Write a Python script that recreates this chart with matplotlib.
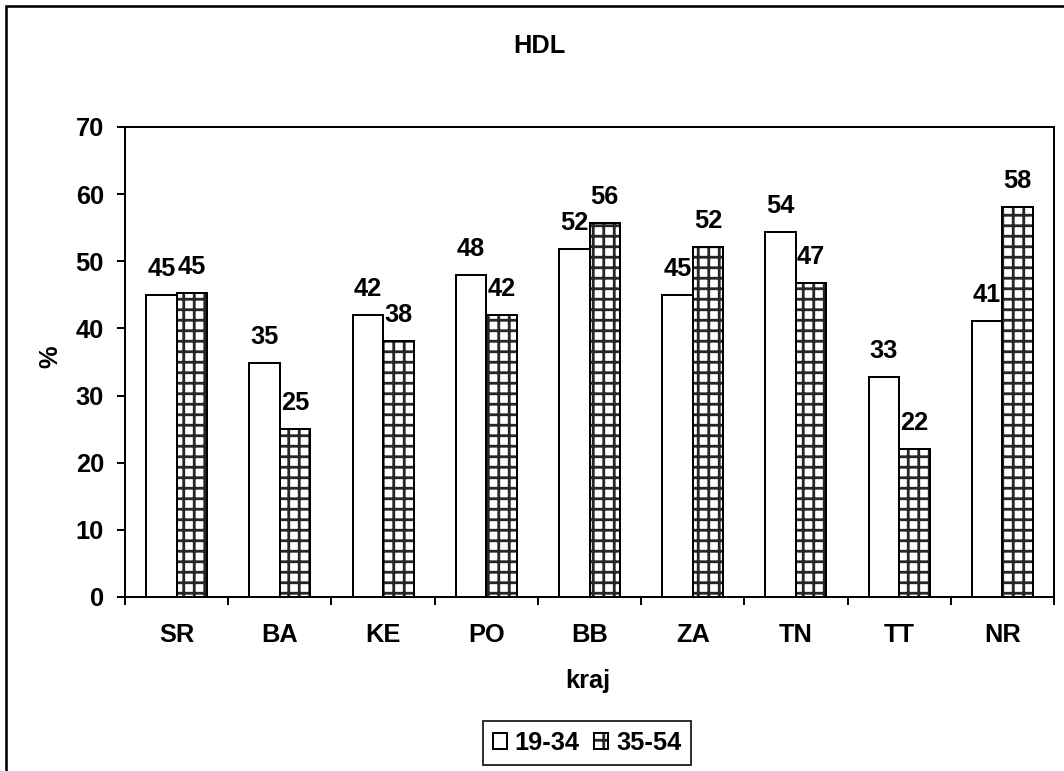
import matplotlib
matplotlib.use("Agg")
import matplotlib.pyplot as plt
from matplotlib.patches import Rectangle, Patch
from matplotlib.legend_handler import HandlerTuple
import numpy as np

# Data
regions = ["SR", "BA", "KE", "PO", "BB", "ZA", "TN", "TT", "NR"]
age_19_34 = [45.0, 34.8, 42.0, 48.0, 51.9, 45.0, 54.4, 32.8, 41.1]
age_35_54 = [45.3, 25.0, 38.1, 42.0, 55.7, 52.1, 46.7, 22.0, 58.1]
series_names = ["19-34", "35-54"]
yticks = [0, 10, 20, 30, 40, 50, 60, 70]

DPI = 126
W, H = 1064, 771
px = 72.0 / DPI  # points per pixel

plt.rcParams["font.family"] = ["Liberation Sans", "DejaVu Sans"]
plt.rcParams["font.weight"] = "bold"
plt.rcParams["hatch.linewidth"] = 1.6

fs = 14.5
hatch_col = "#262626"

fig = plt.figure(figsize=(W / DPI, H / DPI), dpi=DPI)
fig.patch.set_facecolor("white")

# chart-area frame
fig.add_artist(Rectangle((6 / W, -0.2), 1.2, 1.2 - 6 / H,
                         transform=fig.transFigure, fill=False,
                         edgecolor="black", linewidth=2.6 * px))

ax = fig.add_axes([125 / W, 1 - 597 / H, (1054 - 125) / W, (597 - 127) / H])

x = np.arange(len(regions))
bw = 0.295

b1 = ax.bar(x - bw / 2, age_19_34, bw, facecolor="white", edgecolor="black",
            linewidth=2 * px, zorder=3)
b2h = ax.bar(x + bw / 2, age_35_54, bw, facecolor="white", edgecolor=hatch_col,
             hatch="++", linewidth=0, zorder=3)
b2 = ax.bar(x + bw / 2, age_35_54, bw, fill=False, edgecolor="black",
            linewidth=2 * px, zorder=4)

for bars in (b1, b2):
    ax.bar_label(bars, labels=[f"{v:.0f}" for v in bars.datavalues],
                 padding=14 * px, fontsize=fs, fontweight="bold")

ax.set_xlim(-0.5, len(regions) - 0.5)
ax.set_ylim(0, 70)
ax.set_yticks(yticks)
ax.set_xticks(x)
ax.set_xticklabels(regions)
ax.set_xticks(np.arange(len(regions) + 1) - 0.5, minor=True)

ax.tick_params(axis="y", direction="out", length=8 * px, width=2 * px,
               pad=13 * px, labelsize=fs)
ax.tick_params(axis="x", which="major", length=0, pad=26 * px, labelsize=fs)
ax.tick_params(axis="x", which="minor", direction="out", length=8 * px,
               width=2 * px)
for lab in ax.get_xticklabels() + ax.get_yticklabels():
    lab.set_fontweight("bold")

for s in ax.spines.values():
    s.set_linewidth(2 * px)
    s.set_color("black")

ax.set_xlabel("kraj", fontsize=fs, fontweight="bold")
ax.xaxis.set_label_coords(588 / W, 1 - 681 / H, transform=fig.transFigure)
ax.xaxis.label.set_va("center")
ax.set_ylabel("%", fontsize=fs, fontweight="bold")
ax.yaxis.set_label_coords(50 / W, 1 - 357 / H, transform=fig.transFigure)
ax.yaxis.label.set_va("center")

fig.text(539 / W, 1 - 46 / H, "HDL", ha="center", va="center",
         fontsize=fs, fontweight="bold")

h1 = Patch(facecolor="white", edgecolor="black", linewidth=2 * px)
h2a = Patch(facecolor="white", edgecolor=hatch_col, hatch="++", linewidth=0)
h2b = Patch(fill=False, edgecolor="black", linewidth=2 * px)
leg = fig.legend([h1, (h2a, h2b)], series_names, loc="center",
                 bbox_to_anchor=(587 / W, 1 - 743 / H),
                 bbox_transform=fig.transFigure, ncol=2,
                 handler_map={tuple: HandlerTuple(ndivide=1)},
                 prop={"size": fs, "weight": "bold"},
                 handlelength=0.55, handleheight=0.55, handletextpad=0.3,
                 columnspacing=0.6, borderpad=0.4, frameon=True,
                 fancybox=False, borderaxespad=0)
leg.get_frame().set_edgecolor("black")
leg.get_frame().set_linewidth(2 * px)

fig.savefig("out.png", dpi=DPI, facecolor="white")
